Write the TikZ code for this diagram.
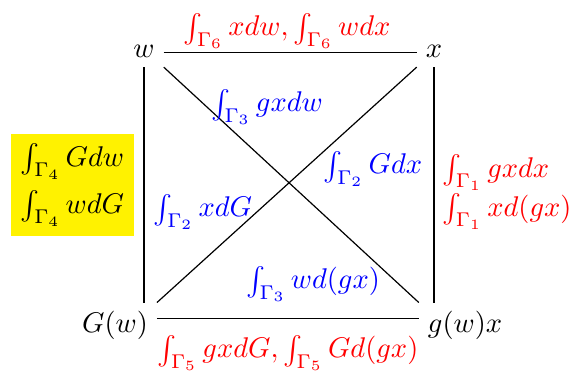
\documentclass[tikz,border=0pt]{standalone}
\usepackage{xcolor}
\tikzset{
  vertex/.style={anchor=base, inner sep=3pt},
  edge/.style={black, line width=0.42pt},
  redlbl/.style={text=red, align=left, inner sep=1pt},
  bluelbl/.style={text=blue},
  boxlbl/.style={fill=yellow, inner sep=3.4pt, align=left}
}
\begin{document}
\begin{tikzpicture}[x=0.351pt,y=-0.351pt]
  \useasboundingbox (0,0) rectangle (570,373);

  \node[vertex] (w) at (144,58) {$w$};
  \node[vertex] (x) at (434,58) {$x$};
  \node[vertex] (Gw) at (115,333) {$G(w)$};
  \node[vertex] (gwx) at (465,333) {$g(w)x$};

  \draw[edge] ([yshift=2pt]w.base east) -- ([yshift=2pt]x.base west);
  \draw[edge] (w.south) -- (w.south |- Gw.north);
  \draw[edge] (x.south) -- (x.south |- gwx.north);
  \draw[edge] ([yshift=5pt]Gw.base east) -- ([yshift=5pt]gwx.base west);
  \draw[edge] (w.south east) -- (gwx.north west);
  \draw[edge] (x.south west) -- (Gw.north east);

  \node[redlbl] (top) at (287,31) {$\int_{\Gamma_6} xdw, \int_{\Gamma_6} wdx$};
  \node[redlbl] (bot) at (288,353) {$\int_{\Gamma_5} gxdG, \int_{\Gamma_5} Gd(gx)$};
  \node[redlbl] (rgt) at (507,192) {$\int_{\Gamma_1} gxdx$\\$\int_{\Gamma_1} xd(gx)$};
  \node[boxlbl] (lft) at (72.5,185) {$\int_{\Gamma_4} Gdw$\\[3pt]$\int_{\Gamma_4} wdG$};

  \node[bluelbl] (d3a) at (267,107) {$\int_{\Gamma_3} gxdw$};
  \node[bluelbl] (d2a) at (373,169) {$\int_{\Gamma_2} Gdx$};
  \node[bluelbl] (d2b) at (203,212) {$\int_{\Gamma_2} xdG$};
  \node[bluelbl] (d3b) at (313,284) {$\int_{\Gamma_3} wd(gx)$};
\end{tikzpicture}
\end{document}
